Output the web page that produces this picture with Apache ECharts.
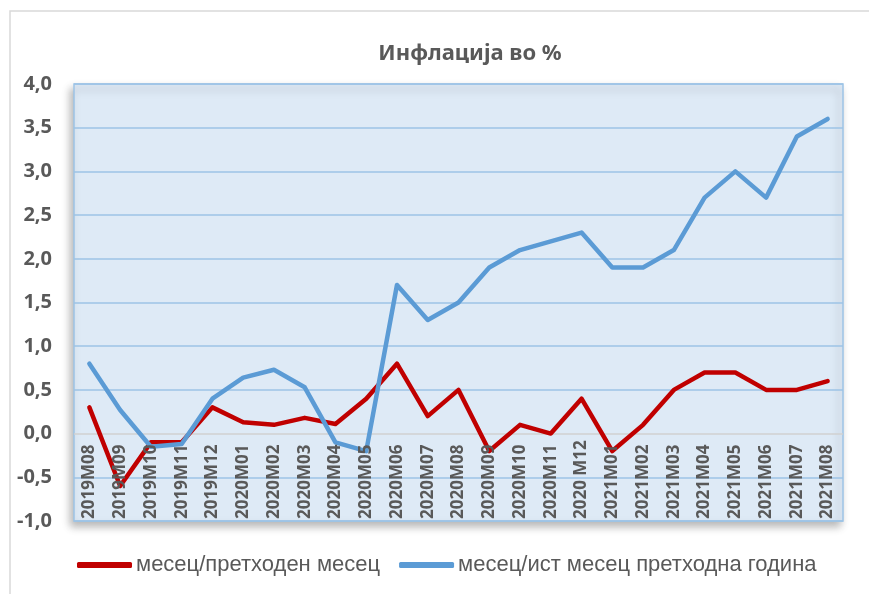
<!DOCTYPE html>
<html>
<head>
<meta charset="utf-8">
<script src="https://cdn.jsdelivr.net/npm/echarts@6/dist/echarts.min.js"></script>
<style>
  html, body { margin: 0; padding: 0; background: #fff; }
  #chart { width: 869px; height: 594px; }
</style>
</head>
<body>
<div id="chart"></div>
<script>
// категории (месеци)
const months = [
  "2019M08", "2019M09", "2019M10", "2019M11", "2019M12",
  "2020M01", "2020M02", "2020M03", "2020M04", "2020M05", "2020M06", "2020M07",
  "2020M08", "2020M09", "2020M10", "2020M11", "2020 M12",
  "2021M01", "2021M02", "2021M03", "2021M04", "2021M05", "2021M06", "2021M07", "2021M08"
];
// месец/претходен месец
const monthOnMonth = [
  0.3, -0.6, -0.1, -0.1, 0.3,
  0.13, 0.1, 0.18, 0.11, 0.4, 0.8, 0.2,
  0.5, -0.2, 0.1, 0.0, 0.4,
  -0.2, 0.1, 0.5, 0.7, 0.7, 0.5, 0.5, 0.6
];
// месец/ист месец претходна година
const yearOnYear = [
  0.8, 0.27, -0.15, -0.12, 0.4,
  0.64, 0.73, 0.53, -0.1, -0.2, 1.7, 1.3,
  1.5, 1.9, 2.1, 2.2, 2.3,
  1.9, 1.9, 2.1, 2.7, 3.0, 2.7, 3.4, 3.6
];
const seriesNames = ["месец/претходен месец", "месец/ист месец претходна година"];

const textGrey = "#595959";
const gridBlue = "#9dc3e6";

const chart = echarts.init(document.getElementById("chart"));

// бои на хоризонталните линии: линијата на 0 е сива
const splitColors = [gridBlue, gridBlue, "#d0d0d0", gridBlue, gridBlue, gridBlue,
  gridBlue, gridBlue, gridBlue, gridBlue, gridBlue];

const option = {
  backgroundColor: "#fff",
  animation: false,
  title: {
    text: "Инфлација во %",
    left: 465,
    textAlign: "center",
    top: 38,
    textStyle: {
      fontFamily: "Noto Sans",
      fontWeight: "bold",
      fontSize: 22,
      color: textGrey,
    },
  },
  legend: {
    left: 72,
    top: 549,
    itemWidth: 55,
    itemHeight: 6,
    itemGap: 19,
    icon: "roundRect",
    textStyle: {
      fontFamily: "Liberation Sans",
      fontSize: 22,
      color: textGrey,
      padding: [0, 0, 0, -1],
    },
    data: seriesNames,
  },
  grid: {
    left: 74,
    right: 26,
    top: 84,
    bottom: 73,
    show: true,
    backgroundColor: "#deeaf6",
    borderColor: gridBlue,
    borderWidth: 1.5,
    shadowColor: "rgba(0,0,0,0.28)",
    shadowBlur: 8,
    shadowOffsetX: -3,
    shadowOffsetY: 5,
  },
  xAxis: {
    type: "category",
    data: months,
    boundaryGap: true,
    axisLine: { show: false },
    axisTick: { show: false },
    axisLabel: {
      inside: true,
      rotate: 90,
      margin: 2,
      interval: 0,
      fontFamily: "Open Sans",
      fontWeight: "bold",
      fontSize: 17,
      color: textGrey,
    },
    z: 10,
  },
  yAxis: {
    type: "value",
    min: -1,
    max: 4,
    interval: 0.5,
    axisLine: { show: false },
    axisTick: { show: false },
    axisLabel: {
      margin: 22,
      fontFamily: "Open Sans",
      fontWeight: "bold",
      fontSize: 20,
      color: textGrey,
      formatter: (v) => v.toFixed(1).replace(".", ","),
    },
    splitLine: {
      show: true,
      lineStyle: { color: splitColors, width: 1.5 },
    },
  },
  series: [
    {
      name: seriesNames[0],
      type: "line",
      data: monthOnMonth,
      symbol: "none",
      itemStyle: { color: "#c00000" },
      lineStyle: { color: "#c00000", width: 4.5, cap: "round", join: "round" },
      z: 3,
    },
    {
      name: seriesNames[1],
      type: "line",
      data: yearOnYear,
      symbol: "none",
      itemStyle: { color: "#5b9bd5" },
      lineStyle: { color: "#5b9bd5", width: 4.5, cap: "round", join: "round" },
      z: 4,
    },
  ],
  graphic: [
    // рамка на графиконот (горе и лево)
    {
      type: "polyline",
      shape: { points: [[10, 600], [10, 11], [880, 11]] },
      style: { stroke: "#d9d9d9", lineWidth: 1.5, fill: null },
      silent: true,
    },
  ],
};

chart.setOption(option);
</script>
</body>
</html>
